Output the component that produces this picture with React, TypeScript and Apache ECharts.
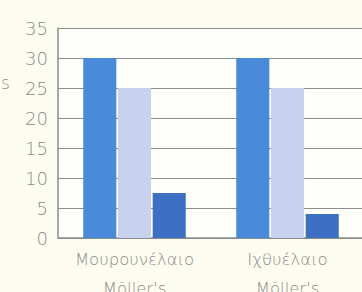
import React, { useEffect, useRef } from "react";
import * as echarts from "echarts";

const categories = ["Μουρουνέλαιο\nMöller's", "Ιχθυέλαιο\nMöller's"];
const seriesA = [30, 30];
const seriesB = [25, 25];
const seriesC = [7.5, 4];
const yTicks = { min: 0, max: 35, interval: 5 };

export default function App() {
  const ref = useRef<HTMLDivElement>(null);
  useEffect(() => {
    const chart = echarts.init(ref.current!, null, { renderer: "svg" });
    const labelStyle = {
      color: "#8a8a88",
      fontFamily: "'DejaVu Sans', sans-serif",
      fontWeight: 200 as any,
      fontSize: 17,
    };
    chart.setOption({
      animation: false,
      backgroundColor: "#fdfcf1",
      grid: {
        left: 58,
        top: 28,
        width: 306,
        bottom: 54,
        show: true,
        backgroundColor: "#fefefb",
        borderWidth: 0,
        outerBoundsMode: "none",
        containLabel: false,
      },
      graphic: [
        {
          type: "text",
          left: 1,
          top: 74,
          style: { text: "s", fill: "#8a8a88", font: "200 17px 'DejaVu Sans', sans-serif" },
        },
      ],
      xAxis: {
        type: "category",
        data: categories,
        axisLine: { show: true, lineStyle: { color: "#8c8c8a", width: 1.5 } },
        axisTick: { show: false },
        axisLabel: { ...labelStyle, fontSize: 16.5, lineHeight: 29, margin: 7, interval: 0 },
      },
      yAxis: {
        type: "value",
        min: yTicks.min,
        max: yTicks.max,
        interval: yTicks.interval,
        axisLine: { show: true, lineStyle: { color: "#8c8c8a", width: 1.5 } },
        axisTick: { show: false },
        axisLabel: { ...labelStyle, fontSize: 18, margin: 10 },
        splitLine: { show: true, lineStyle: { color: "#8c8c8a", width: 1 } },
      },
      series: [
        {
          type: "bar",
          data: seriesA,
          itemStyle: { color: "#4a8bd9" },
          barGap: "5%",
          barCategoryGap: "33%",
        },
        { type: "bar", data: seriesB, itemStyle: { color: "#c8d1ee" } },
        { type: "bar", data: seriesC, itemStyle: { color: "#3d70c2" } },
      ],
    });
    return () => chart.dispose();
  }, []);
  return <div ref={ref} style={{ width: 362, height: 292, position: "absolute", left: 0, top: 0 }} />;
}
